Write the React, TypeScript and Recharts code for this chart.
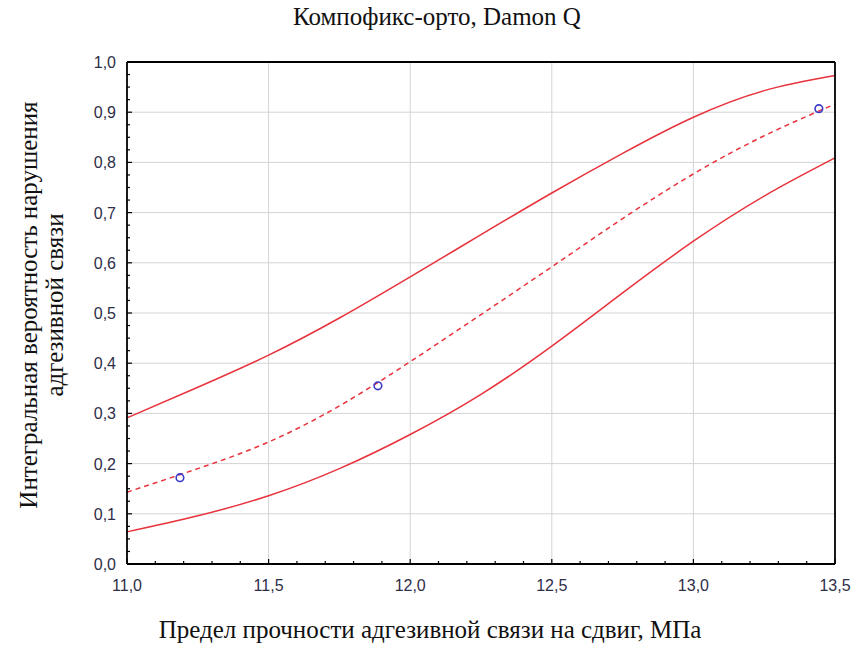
import React from "react";
import { ComposedChart, Line, Scatter, XAxis, YAxis, ReferenceLine } from "recharts";

// shear bond strength, MPa
const xValues = [11.0, 11.25, 11.5, 11.75, 12.0, 12.25, 12.5, 12.75, 13.0, 13.25, 13.5];

// upper confidence bound
const upperValues = [0.291, 0.352, 0.416, 0.49, 0.572, 0.656, 0.739, 0.818, 0.89, 0.943, 0.973];
// fitted cumulative probability (dashed)
const fitValues = [0.143, 0.19, 0.243, 0.315, 0.403, 0.497, 0.592, 0.688, 0.777, 0.853, 0.916];
// lower confidence bound
const lowerValues = [0.064, 0.096, 0.136, 0.19, 0.258, 0.338, 0.434, 0.54, 0.643, 0.733, 0.809];

// observed points
const obsX = [11.187, 11.886, 13.443];
const obsY = [0.172, 0.355, 0.907];

const xMajor = [11.0, 11.5, 12.0, 12.5, 13.0, 13.5];
const yMajor = [0.0, 0.1, 0.2, 0.3, 0.4, 0.5, 0.6, 0.7, 0.8, 0.9, 1.0];

const xTicks: number[] = [];
for (let i = 0; i <= 25; i++) xTicks.push(+(11 + i * 0.1).toFixed(2));
const yTicks: number[] = [];
for (let i = 0; i <= 40; i++) yTicks.push(+(i * 0.025).toFixed(3));

const toRows = (ys: number[]) => xValues.map((x, i) => ({ x, y: ys[i] }));
const upperData = toRows(upperValues);
const fitData = toRows(fitValues);
const lowerData = toRows(lowerValues);
const obsData = obsX.map((x, i) => ({ x, y: obsY[i] }));

const RED = "#e8323c";
const LABEL = "#2e2e48";
const fmt = (v: number) => v.toFixed(1).replace(".", ",");
const isMajor = (v: number, step: number) => Math.abs(v / step - Math.round(v / step)) < 1e-6;

const BottomTick = (props: any) => {
  const { x, y, payload } = props;
  const major = isMajor(payload.value, 0.5);
  return (
    <g>
      <line x1={x} x2={x} y1={y} y2={y - (major ? 5 : 3)} stroke="#000" strokeWidth={1.2} />
      {major && (
        <text x={x} y={y + 27} textAnchor="middle" style={{ fontSize: 16 }} fill={LABEL} fontFamily="Liberation Sans, Arial">
          {fmt(payload.value)}
        </text>
      )}
    </g>
  );
};

const TopTick = (props: any) => {
  const { x, y, payload } = props;
  const major = isMajor(payload.value, 0.5);
  return <line x1={x} x2={x} y1={y} y2={y + (major ? 5 : 3)} stroke="#000" strokeWidth={1.2} />;
};

const LeftTick = (props: any) => {
  const { x, y, payload } = props;
  const major = isMajor(payload.value, 0.1);
  return (
    <g>
      <line x1={x} x2={x + (major ? 5 : 3)} y1={y} y2={y} stroke="#000" strokeWidth={1.2} />
      {major && (
        <text x={x - 11} y={y + 6} textAnchor="end" style={{ fontSize: 16 }} fill={LABEL} fontFamily="Liberation Sans, Arial">
          {fmt(payload.value)}
        </text>
      )}
    </g>
  );
};

const RightTick = (props: any) => {
  const { x, y, payload } = props;
  const major = isMajor(payload.value, 0.1);
  return <line x1={x} x2={x - (major ? 5 : 3)} y1={y} y2={y} stroke="#000" strokeWidth={1.2} />;
};

const OpenDot = (props: any) => {
  const { cx, cy } = props;
  return <circle cx={cx} cy={cy} r={3.8} fill="none" stroke="#3a3ac8" strokeWidth={1.6} />;
};

const serif = "Liberation Serif, Times New Roman, serif";

export default function App() {
  return (
    <div style={{ position: "absolute", left: 0, top: 0, width: 854, height: 648, background: "#fff" }}>
      <ComposedChart width={854} height={648} margin={{ top: 61, right: 18, bottom: 54, left: 87 }}>
        <XAxis
          xAxisId="b"
          type="number"
          dataKey="x"
          domain={[11, 13.5]}
          ticks={xTicks}
          interval={0}
          height={30}
          tickSize={0}
          tickMargin={0}
          tickLine={false}
          axisLine={{ stroke: "#000", strokeWidth: 1.8 }}
          tick={<BottomTick />}
        />
        <XAxis
          xAxisId="t"
          orientation="top"
          type="number"
          dataKey="x"
          domain={[11, 13.5]}
          ticks={xTicks}
          interval={0}
          height={1}
          tickSize={0}
          tickMargin={0}
          tickLine={false}
          axisLine={{ stroke: "#000", strokeWidth: 1.8 }}
          tick={<TopTick />}
        />
        <YAxis
          yAxisId="l"
          type="number"
          domain={[0, 1]}
          ticks={yTicks}
          interval={0}
          width={40}
          tickSize={0}
          tickMargin={0}
          tickLine={false}
          axisLine={{ stroke: "#000", strokeWidth: 1.8 }}
          tick={<LeftTick />}
        />
        <YAxis
          yAxisId="r"
          orientation="right"
          type="number"
          domain={[0, 1]}
          ticks={yTicks}
          interval={0}
          width={1}
          tickSize={0}
          tickMargin={0}
          tickLine={false}
          axisLine={{ stroke: "#000", strokeWidth: 1.8 }}
          tick={<RightTick />}
        />
        {xMajor.slice(1, -1).map((v) => (
          <ReferenceLine key={"vx" + v} xAxisId="b" yAxisId="l" x={v} stroke="#d4d4d4" strokeWidth={1} />
        ))}
        {yMajor.slice(1, -1).map((v) => (
          <ReferenceLine key={"hy" + v} xAxisId="b" yAxisId="l" y={v} stroke="#d4d4d4" strokeWidth={1} />
        ))}
        <Line
          xAxisId="b"
          yAxisId="l"
          data={upperData}
          dataKey="y"
          type="natural"
          stroke={RED}
          strokeWidth={1.5}
          dot={false}
          isAnimationActive={false}
        />
        <Line
          xAxisId="b"
          yAxisId="l"
          data={fitData}
          dataKey="y"
          type="natural"
          stroke={RED}
          strokeWidth={1.5}
          strokeDasharray="5 4"
          dot={false}
          isAnimationActive={false}
        />
        <Line
          xAxisId="b"
          yAxisId="l"
          data={lowerData}
          dataKey="y"
          type="natural"
          stroke={RED}
          strokeWidth={1.5}
          dot={false}
          isAnimationActive={false}
        />
        <Scatter
          xAxisId="b"
          yAxisId="l"
          data={obsData}
          dataKey="y"
          shape={<OpenDot />}
          isAnimationActive={false}
        />
      </ComposedChart>
      <div style={{ position: "absolute", top: 3, left: 0, width: 874, textAlign: "center", fontFamily: serif, fontSize: 25, color: "#111" }}>
        Компофикс-орто, Damon Q
      </div>
      <div style={{ position: "absolute", top: 616, left: 0, width: 860, textAlign: "center", fontFamily: serif, fontSize: 25, color: "#111" }}>
        Предел прочности адгезивной связи на сдвиг, МПа
      </div>
      <div
        style={{
          position: "absolute",
          left: 42,
          top: 305,
          transform: "translate(-50%, -50%) rotate(-90deg)",
          fontFamily: serif,
          fontSize: 25,
          lineHeight: "26px",
          color: "#111",
          textAlign: "center",
          whiteSpace: "nowrap",
        }}
      >
        Интегральная вероятность нарушения
        <br />
        адгезивной связи
      </div>
    </div>
  );
}
